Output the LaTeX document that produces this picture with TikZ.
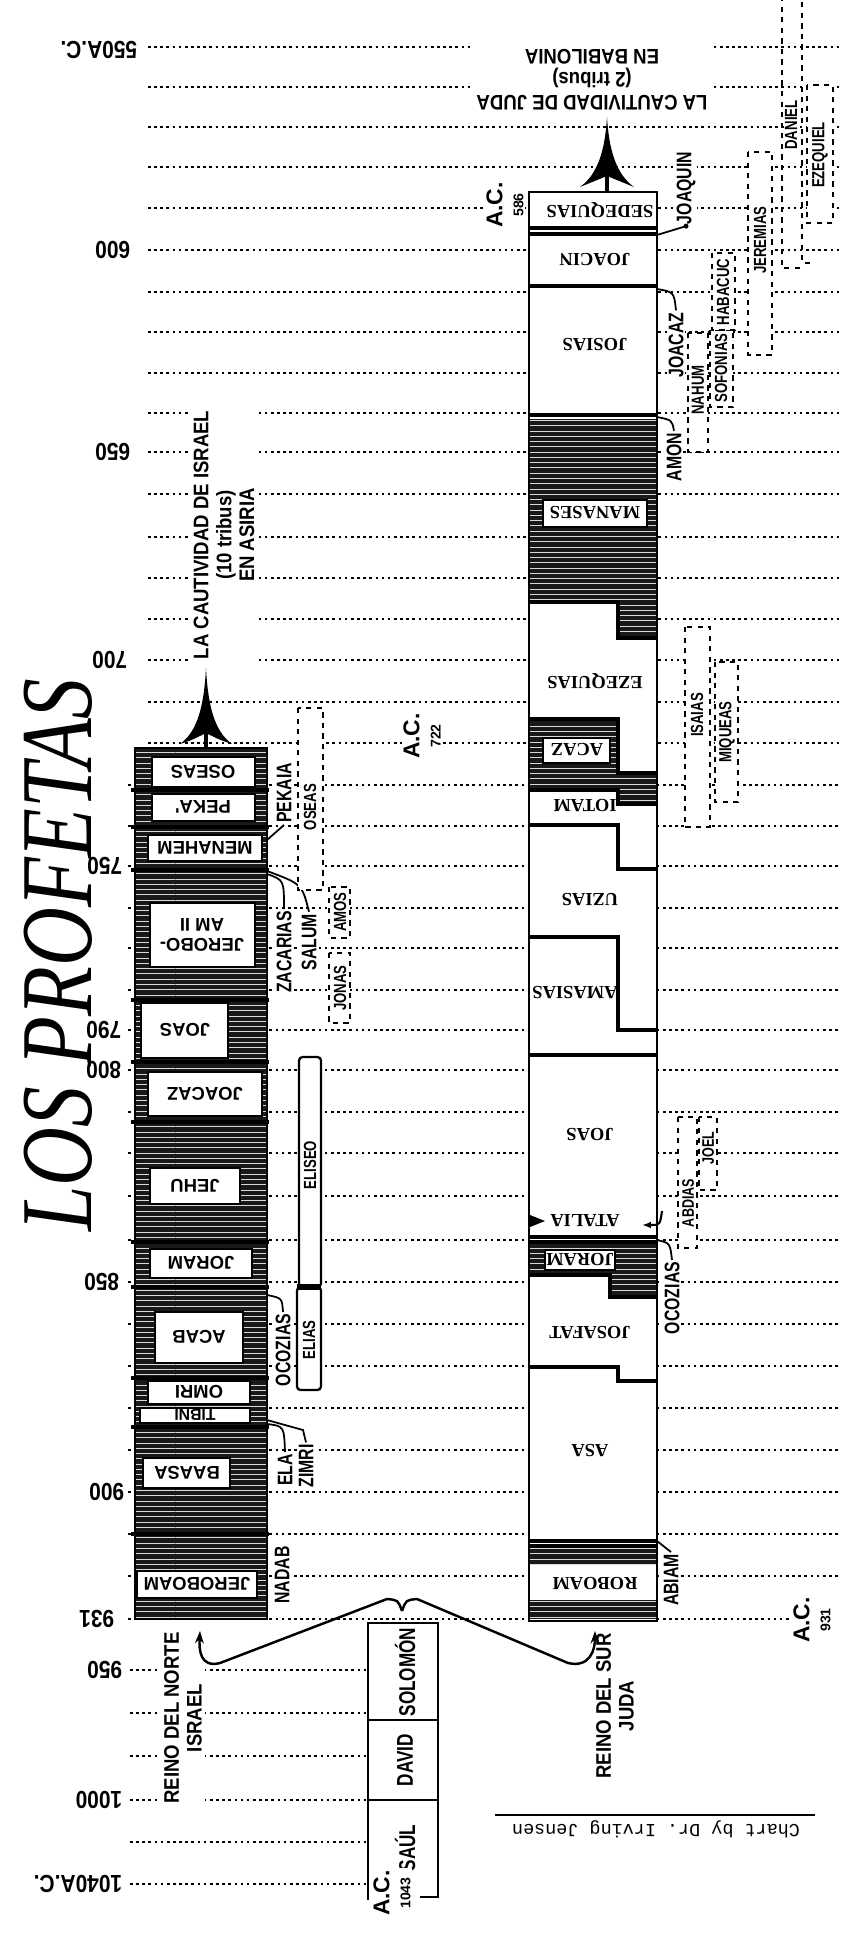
\documentclass[tikz,border=0pt]{standalone}
\usepackage{fontspec}
\setmainfont{Liberation Serif}
\setmonofont{Liberation Mono}
\newfontfamily\lblfont{Liberation Sans}[FakeStretch=0.75]
\newfontfamily\yrfont{Liberation Sans}[FakeStretch=0.85]
\newfontfamily\capfont{Liberation Sans}[FakeStretch=0.88]
\newfontfamily\acfont{Liberation Sans}
\newfontfamily\ttlfont{Liberation Serif}[FakeStretch=0.8]
\usetikzlibrary{positioning,arrows.meta,calc,patterns}

\tikzset{
  gridln/.style={line width=1.5pt,dash pattern=on 1.5pt off 2pt},
  evil/.style={fill=black!90,postaction={pattern=horizontal lines,pattern color=white!85!black}},
  coledge/.style={line width=1.3pt},
  kingsep/.style={line width=2.2pt},
  namebox/.style={draw,fill=white,line width=.8pt},
  kname/.style={rotate=180,inner sep=0pt,font=\acfont\bfseries\fontsize{10.5}{11}\selectfont},
  jname/.style={rotate=180,inner sep=1pt,font=\bfseries\fontsize{10.5}{11}\selectfont},
  sname/.style={rotate=90,fill=white,inner sep=1pt,font=\lblfont\bfseries\fontsize{12}{12}\selectfont},
  pname/.style={rotate=90,fill=white,inner sep=.5pt,font=\lblfont\bfseries\fontsize{10}{10}\selectfont},
  pbox/.style={draw,dashed,line width=1.2pt,fill=white},
  pbar/.style={draw,line width=1.3pt,fill=white,rounded corners=2pt},
  yr/.style={rotate=180,anchor=west,fill=white,inner sep=2pt,font=\yrfont\bfseries\fontsize{14}{14}\selectfont},
  acl/.style={rotate=90,align=center,fill=white,inner sep=1pt,font=\acfont\bfseries\fontsize{13}{12}\selectfont},
  capt/.style={align=center,fill=white,inner sep=2pt,font=\capfont\bfseries\fontsize{12}{13}\selectfont},
  ldr/.style={line width=1pt},
}

\begin{document}
\begin{tikzpicture}[x=0.02cm,y=-0.02cm]
\useasboundingbox (0,0) rectangle (852,1934);

% dotted year lines
\foreach \y in {47,87,127,167,208,250,292,332,373,413,452,494,537,578,619,660,702,743}
  \draw[gridln] (148,\y) -- (840,\y);
\foreach \y in {785,826,866,908,948,990,1030,1070,1112,1153,1196,1240,1282,1324,1366,1408,1450,1492,1534,1576}
  \draw[gridln] (128,\y) -- (840,\y);
\draw[gridln] (128,1619) -- (795,1619);
\foreach \y in {1670,1713,1756,1800,1842,1884}
  \draw[gridln] (130,\y) -- (366,\y);

% years
\node[yr] (y550) at (141,50) {550A.C.};
\node[yr] (y600) at (134,250) {600};
\node[yr] (y650) at (134,452) {650};
\node[yr] (y700) at (131,660) {700};
\node[yr] (y750) at (126,866) {750};
\node[yr] (y790) at (125,1030) {790};
\node[yr] (y800) at (125,1070) {800};
\node[yr] (y850) at (123,1282) {850};
\node[yr] (y900) at (128,1492) {900};
\node[yr] (y931) at (118,1619) {931};
\node[yr] (y950) at (126,1670) {950};
\node[yr] (y1000) at (126,1800) {1000};
\node[yr] (y1040) at (126,1884) {1040A.C.};

% title
\node[rotate=90,font=\ttlfont\itshape\fontsize{58}{58}\selectfont] (title) at (58,955) {LOS PROFETAS};

% reino del norte
\fill[evil] (135,748) rectangle (267,1619);
\foreach \y in {790,827,870,1000,1062,1122,1242,1287,1378,1427,1534}
  \draw[kingsep] (131,\y) -- (269,\y);
\draw[coledge] (135,748) rectangle (267,1619);
\draw[namebox] (152,757) rectangle (255,787);
\node[kname] (oseas) at (203,772) {OSEAS};
\draw[namebox] (152,794) rectangle (255,821);
\node[kname] (peka) at (203,807) {PEKA'};
\draw[namebox] (148,835) rectangle (262,861);
\node[kname] (menahem) at (205,848) {MENAHEM};
\draw[namebox] (150,903) rectangle (255,967);
\node[kname,align=center] (jeroboam2) at (202,935) {JEROBO-\\AM II};
\draw[namebox] (141,1003) rectangle (228,1058);
\node[kname] (joasN) at (185,1030) {JOAS};
\draw[namebox] (148,1072) rectangle (262,1116);
\node[kname] (joacazN) at (205,1094) {JOACAZ};
\draw[namebox] (150,1168) rectangle (240,1204);
\node[kname] (jehu) at (195,1186) {JEHU};
\draw[namebox] (150,1249) rectangle (252,1278);
\node[kname] (joramN) at (201,1263) {JORAM};
\draw[namebox] (155,1312) rectangle (243,1363);
\node[kname] (acab) at (199,1337) {ACAB};
\draw[namebox] (148,1381) rectangle (250,1404);
\node[kname] (omri) at (199,1392) {OMRI};
\draw[namebox] (140,1408) rectangle (250,1423);
\node[kname,font=\acfont\bfseries\fontsize{9}{9}\selectfont] (tibni) at (195,1415) {TIBNI};
\draw[namebox] (143,1458) rectangle (230,1488);
\node[kname] (baasa) at (187,1473) {BAASA};
\draw[namebox] (137,1571) rectangle (257,1598);
\node[kname] (jeroboam) at (197,1584) {JEROBOAM};

% reino del sur
\fill[white] (529,192) rectangle (657,1621);
\fill[evil] (529,419) rectangle (657,602);
\fill[evil] (618,602) rectangle (657,638);
\fill[evil] (529,719) rectangle (618,790);
\fill[evil] (618,773) rectangle (657,804);
\fill[evil] (529,1244) rectangle (657,1275);
\fill[evil] (610,1275) rectangle (657,1297);
\fill[evil] (529,1546) rectangle (657,1565);
\fill[evil] (529,1600) rectangle (657,1619);
\foreach \y in {228,234,286,415,1055,1237,1242,1541,1546}
  \draw[kingsep] (529,\y) -- (657,\y);
\draw[kingsep] (529,602) -- (618,602) -- (618,638) -- (657,638);
\draw[kingsep] (529,719) -- (618,719) -- (618,773) -- (657,773);
\draw[kingsep] (529,790) -- (618,790) -- (618,804) -- (657,804);
\draw[kingsep] (529,825) -- (618,825) -- (618,869) -- (657,869);
\draw[kingsep] (529,937) -- (618,937) -- (618,1030) -- (657,1030);
\draw[kingsep] (529,1275) -- (610,1275) -- (610,1297) -- (657,1297);
\draw[kingsep] (529,1367) -- (618,1367) -- (618,1381) -- (657,1381);
\draw[coledge] (529,192) rectangle (657,1621);
\node[jname] (sedequias) at (600,210) {SEDEQUIAS};
\node[jname] (joacin) at (595,260) {JOACIN};
\node[jname] (josias) at (595,345) {JOSIAS};
\draw[namebox] (543,500) rectangle (647,527);
\node[jname] (manases) at (595,513) {MANASES};
\node[jname] (ezequias) at (595,681) {EZEQUIAS};
\draw[namebox] (543,738) rectangle (610,763);
\node[jname] (acaz) at (577,750) {ACAZ};
\node[jname] (iotam) at (585,806) {IOTAM};
\node[jname] (uzias) at (590,900) {UZIAS};
\node[jname] (amasias) at (575,993) {AMASIAS};
\node[jname] (joasS) at (590,1135) {JOAS};
\node[jname] (atalia) at (585,1221) {ATALIA};
\draw[namebox] (545,1250) rectangle (615,1270);
\node[jname] (joramS) at (580,1260) {JORAM};
\node[jname] (josafat) at (590,1333) {JOSAFAT};
\node[jname] (asa) at (590,1450) {ASA};
\node[jname] (roboam) at (595,1583) {ROBOAM};
\coordinate (ataL) at (530,1221);
\coordinate (ataR1) at (662,1211);
\coordinate (ataR2) at (642,1225);
\fill (ataL) ++(0,-6) -- ++(15,6) -- ++(-15,6) -- cycle;
\draw[ldr,line width=1.2pt,-{Latex[length=5pt]}] (ataR1) .. controls (660,1225) .. (ataR2);

% side kings
\node[sname] (nadab) at (282,1575) {NADAB};
\node[sname] (ela) at (285,1470) {ELA};
\node[sname] (zimri) at (306,1466) {ZIMRI};
\node[sname] (ocozias1) at (283,1350) {OCOZIAS};
\node[sname] (zacarias) at (284,952) {ZACARIAS};
\node[sname] (salum) at (309,942) {SALUM};
\node[sname] (pekaia) at (284,793) {PEKAIA};
\node[sname] (abiam) at (671,1580) {ABIAM};
\node[sname] (ocozias2) at (672,1298) {OCOZIAS};
\node[sname] (joacazS) at (676,345) {JOACAZ};
\node[sname] (amon) at (674,457) {AMON};
\node[sname] (joaquin) at (686,188) {JOAQUIN};
\coordinate (elaF) at (267,1424);
\coordinate (zimriF) at (267,1420);
\coordinate (ocoF1) at (267,1295);
\coordinate (zacF) at (267,874);
\coordinate (salF) at (267,871);
\coordinate (pekF) at (267,840);
\coordinate (abiF) at (657,1541);
\coordinate (ocoF2) at (657,1240);
\coordinate (joaF) at (657,289);
\coordinate (amoF) at (657,417);
\coordinate (joqF) at (657,235);
\draw[ldr] (elaF) .. controls (284,1426) .. (ela.east);
\draw[ldr] (zimriF) -- (303,1430) -- (zimri.east);
\draw[ldr] (ocoF1) .. controls (282,1298) .. (ocozias1.east);
\draw[ldr] (zacF) .. controls (284,880) .. (zacarias.east);
\draw[ldr] (salF) .. controls (302,884) .. (salum.east);
\draw[ldr] (pekF) -- (pekaia.west);
\draw[ldr] (abiF) -- (abiam.east);
\draw[ldr] (ocoF2) .. controls (670,1243) .. (ocozias2.east);
\draw[ldr] (joaF) .. controls (674,292) .. (joacazS.east);
\draw[ldr] (amoF) .. controls (672,420) .. (amon.east);
\draw[ldr] (joqF) -- (joaquin.west);
\fill (joaquin.west) circle (2.5);

% profetas
\draw[pbar] (299,1057) rectangle (321,1287);
\node[pname] (eliseo) at (310,1165) {ELISEO};
\draw[pbar] (297,1287) rectangle (321,1390);
\node[pname] (elias) at (309,1340) {ELIAS};
\draw[line width=3pt] (297,1287) -- (321,1287);
\draw[pbox] (298,708) rectangle (323,890);
\node[pname] (oseasP) at (310,807) {OSEAS};
\draw[pbox] (329,887) rectangle (350,938);
\node[pname] (amos) at (340,912) {AMOS};
\draw[pbox] (329,953) rectangle (350,1023);
\node[pname] (jonas) at (340,988) {JONAS};
\draw[pbox] (685,627) rectangle (710,827);
\node[pname] (isaias) at (697,715) {ISAIAS};
\draw[pbox] (715,662) rectangle (738,802);
\node[pname] (miqueas) at (727,732) {MIQUEAS};
\draw[pbox] (678,1117) rectangle (697,1248);
\node[pname,font=\lblfont\bfseries\fontsize{9.5}{9.5}\selectfont] (abdias) at (688,1203) {ABDIAS};
\draw[pbox] (699,1117) rectangle (717,1190);
\node[pname,font=\lblfont\bfseries\fontsize{9.5}{9.5}\selectfont] (joel) at (708,1148) {JOEL};
\draw[pbox] (688,333) rectangle (708,452);
\node[pname] (nahum) at (698,390) {NAHUM};
\draw[pbox] (710,330) rectangle (733,407);
\node[pname] (sofonias) at (721,368) {SOFONIAS};
\draw[pbox] (712,253) rectangle (735,330);
\node[pname] (habacuc) at (723,292) {HABACUC};
\draw[pbox] (748,152) rectangle (772,355);
\node[pname] (jeremias) at (760,240) {JEREMIAS};
\draw[dashed,line width=1.2pt] (800,268) -- (782,268) -- (782,0);
\node[pname] (daniel) at (791,125) {DANIEL};
\draw[dashed,line width=1.2pt] (810,263) -- (802,263) -- (802,0);
\draw[pbox] (807,85) rectangle (833,223);
\node[pname] (ezequiel) at (820,155) {EZEQUIEL};

% cautividades
\coordinate (isrtop) at (206,748);
\coordinate (isrtip) at (206,668);
\fill (isrtip) .. controls (208,705) and (214,731) .. (232,744) .. controls (220,740) .. (206,733) .. controls (192,740) .. (180,744) .. controls (198,731) and (204,705) .. (isrtip) -- cycle;
\draw[line width=2.5pt] (206,733) -- (isrtop);
\coordinate (judtop) at (607,192);
\coordinate (judtip) at (607,117);
\fill (judtip) .. controls (609,150) and (616,174) .. (634,187) .. controls (621,182) .. (607,176) .. controls (593,182) .. (580,187) .. controls (598,174) and (605,150) .. (judtip) -- cycle;
\draw[line width=2.5pt] (607,176) -- (judtop);
\node[capt,rotate=90] (isrcap) at (224,535) {LA CAUTIVIDAD DE ISRAEL\\(10 tribus)\\EN ASIRIA};
\node[capt,rotate=180] (judcap) at (592,80) {LA CAUTIVIDAD DE JUDA\\(2 tribus)\\EN BABILONIA};
\node[acl] (ac722) at (422,736) {A.C.\\{\fontsize{8}{8}\selectfont 722}};
\node[acl] (ac586) at (505,205) {A.C.\\{\fontsize{8}{8}\selectfont 586}};
\node[acl] (ac931) at (812,1620) {A.C.\\{\fontsize{8}{8}\selectfont 931}};

% reino unido
\draw[coledge] (368,1623) rectangle (438,1720);
\draw[coledge] (368,1720) rectangle (438,1800);
\draw[coledge] (368,1800) -- (368,1900);
\draw[coledge] (438,1800) -- (438,1897) -- (420,1897);
\node[rotate=90,font=\lblfont\bfseries\fontsize{13}{13}\selectfont] (solomon) at (405,1672) {SOLOMÓN};
\node[rotate=90,font=\lblfont\bfseries\fontsize{13}{13}\selectfont] (david) at (405,1760) {DAVID};
\node[rotate=90,font=\lblfont\bfseries\fontsize{13}{13}\selectfont] (saul) at (405,1848) {SAÚL};
\node[acl] (ac1043) at (392,1893) {A.C.\\{\fontsize{8}{8}\selectfont 1043}};
\node[capt,rotate=90] (norte) at (183,1718) {REINO DEL NORTE\\ISRAEL};
\node[capt,rotate=90] (sur) at (615,1706) {REINO DEL SUR\\JUDA};

% division
\coordinate (isrfoot) at (200,1631);
\coordinate (judfoot) at (595,1631);
\coordinate (cusp) at (402,1611);
\coordinate (lpeak) at (387,1599);
\coordinate (rpeak) at (417,1599);
\coordinate (lbend) at (220,1663);
\coordinate (rbend) at (568,1663);
\draw[line width=1.4pt,-{Stealth[length=7pt,width=5pt]}] (cusp) .. controls (398,1600) .. (lpeak) -- (lbend) .. controls (200,1668) and (199,1650) .. (isrfoot);
\draw[line width=1.4pt,-{Stealth[length=7pt,width=5pt]}] (cusp) .. controls (406,1600) .. (rpeak) -- (rbend) .. controls (590,1668) and (595,1650) .. (judfoot);

% credit
\draw[line width=1.6pt] (495,1815) -- (815,1815);
\node[rotate=180,font=\ttfamily\fontsize{10.5}{10.5}\selectfont] (credit) at (656,1829) {Chart by Dr. Irving Jensen};
\end{tikzpicture}
\end{document}
